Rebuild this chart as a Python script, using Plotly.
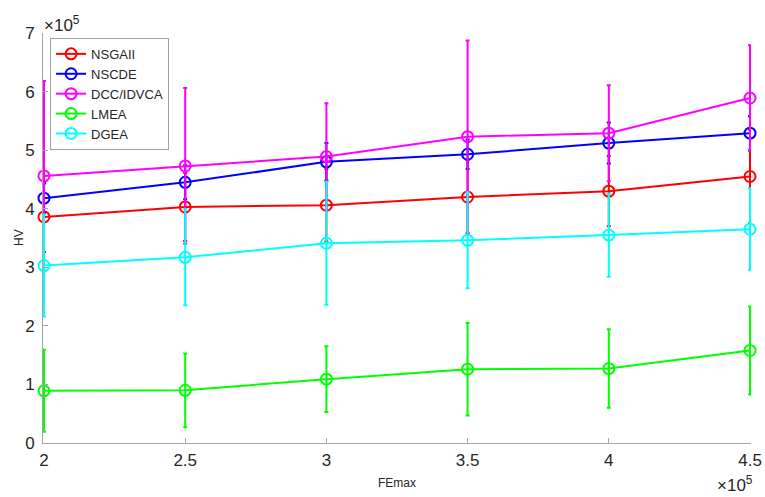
import plotly.graph_objects as go

FEmax = [200000, 250000, 300000, 350000, 400000, 450000]

names = ["NSGAII", "NSCDE", "DCC/IDVCA", "LMEA", "DGEA"]
colors = ["#ff0000", "#0000ff", "#ff00ff", "#00ff00", "#00ffff"]

nsgaii = [386000, 403000, 406000, 420000, 430000, 455000]
nsgaii_err = [60000, 58000, 62000, 63000, 60000, 80000]
nscde = [418000, 445000, 480000, 493000, 512000, 529000]
nscde_err = [25000, 29000, 32000, 25000, 35000, 29000]
dcc = [456000, 473000, 489000, 523000, 529000, 589000]
dcc_err = [162000, 133000, 91000, 164000, 82000, 90000]
lmea = [89000, 90000, 109000, 126000, 127000, 158000]
lmea_err = [70000, 63000, 56000, 79000, 67000, 75000]
dgea = [303000, 317000, 341000, 346000, 355000, 365000]
dgea_err = [87000, 82000, 105000, 82000, 71000, 70000]

series = [nsgaii, nscde, dcc, lmea, dgea]
errors = [nsgaii_err, nscde_err, dcc_err, lmea_err, dgea_err]

x_ticks = [200000, 250000, 300000, 350000, 400000, 450000]
x_ticktext = ["2", "2.5", "3", "3.5", "4", "4.5"]
y_ticks = [0, 100000, 200000, 300000, 400000, 500000, 600000, 700000]
y_ticktext = ["0", "1", "2", "3", "4", "5", "6", "7"]

fig = go.Figure()
for name, col, ys, es in zip(names, colors, series, errors):
    fig.add_trace(go.Scatter(
        x=FEmax, y=ys, name=name, mode="lines+markers",
        line=dict(color=col, width=2),
        marker=dict(symbol="circle-open", size=11, color=col, line=dict(width=2, color=col)),
        error_y=dict(type="data", array=es, visible=True, color=col, thickness=2, width=2),
        cliponaxis=False,
    ))

axis_col = "#a6a6a6"
font_col = "#262626"
fig.update_layout(
    width=765, height=497,
    margin=dict(l=43, r=14, t=33, b=54, autoexpand=False),
    plot_bgcolor="white", paper_bgcolor="white",
    font=dict(family="Liberation Sans, Arial, sans-serif", color=font_col, size=15),
    showlegend=True,
    legend=dict(x=0.01, y=0.988, xanchor="left", yanchor="top",
                bgcolor="white", bordercolor="#a0a0a0", borderwidth=1,
                font=dict(size=13, color=font_col), itemwidth=30,
                tracegroupgap=0),
    xaxis=dict(range=[199650, 450350], tickvals=x_ticks, ticktext=x_ticktext,
               showline=True, linecolor=axis_col, linewidth=1, mirror=False,
               ticks="inside", ticklen=5, tickcolor=axis_col, showgrid=False,
               zeroline=False, tickfont=dict(size=17, color=font_col),
               automargin=False, ticklabelstandoff=2),
    yaxis=dict(range=[0, 700000], tickvals=y_ticks, ticktext=y_ticktext,
               showline=True, linecolor=axis_col, linewidth=1, mirror=False,
               ticks="inside", ticklen=5, tickcolor=axis_col, showgrid=False,
               zeroline=False, tickfont=dict(size=17, color=font_col),
               automargin=False, ticklabelstandoff=4),
    annotations=[
        dict(text="×10<sup>5</sup>", xref="paper", yref="paper", x=0.0, y=1.0,
             xanchor="left", yanchor="bottom", showarrow=False, yshift=-4, xshift=-1,
             font=dict(size=17, color=font_col)),
        dict(text="×10<sup>5</sup>", xref="paper", yref="paper", x=1.0, y=0.0,
             xanchor="right", yanchor="top", showarrow=False, yshift=-28, xshift=4,
             font=dict(size=17, color=font_col)),
        dict(text="FEmax", xref="paper", yref="paper", x=0.5, y=0.0,
             xanchor="center", yanchor="middle", showarrow=False, yshift=-40,
             font=dict(size=12, color=font_col)),
        dict(text="HV", xref="paper", yref="paper", x=0.0, y=0.5,
             xanchor="center", yanchor="middle", showarrow=False, xshift=-24, textangle=-90,
             font=dict(size=12, color=font_col)),
    ],
)

fig.write_html("out.html", config={"displayModeBar": False},
               post_script="document.body.style.margin='0';document.body.style.overflow='hidden';")
